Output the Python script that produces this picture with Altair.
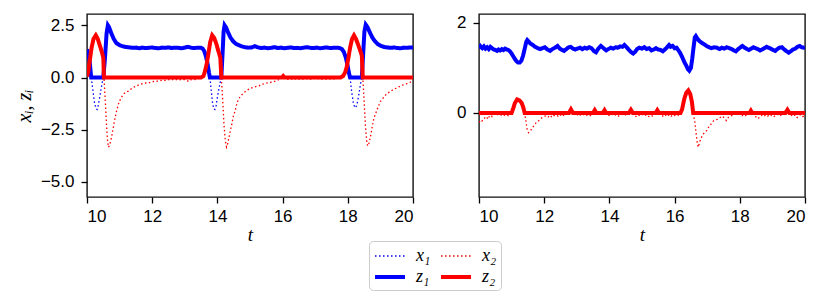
import altair as alt
import pandas as pd

# ---------------- data ----------------
SERIES = ["x\u2081", "x\u2082", "z\u2081", "z\u2082"]
COLORS = ["#0000ff", "#ff0000", "#0000ff", "#ff0000"]

X_TICKS = [10, 12, 14, 16, 18, 20]
Y_TICKS_LEFT = [-5.0, -2.5, 0.0, 2.5]
Y_TICKS_RIGHT = [0, 2]
Y_DOMAIN_LEFT = [-5.72, 3.04]
Y_DOMAIN_RIGHT = [-1.87, 2.2]

# left panel, z1 (t, value)
Z1_LEFT = [
    (10.00, 1.34), (10.04, 1.18), (10.08, 0.80), (10.11, 0.30), (10.13, 0.00),
    (10.50, 0.00), (10.55, 0.90), (10.60, 2.10), (10.64, 2.50), (10.68, 2.40),
    (10.75, 2.10), (10.82, 1.85), (10.90, 1.65), (11.00, 1.55), (11.10, 1.49),
    (11.20, 1.46), (11.30, 1.44), (11.40, 1.42), (11.50, 1.43), (11.60, 1.40),
    (11.70, 1.43), (11.80, 1.41), (11.90, 1.42), (12.00, 1.44), (12.10, 1.41),
    (12.20, 1.40), (12.30, 1.43), (12.40, 1.42), (12.50, 1.44), (12.60, 1.41),
    (12.70, 1.43), (12.80, 1.42), (12.90, 1.40), (13.00, 1.43), (13.10, 1.47),
    (13.20, 1.42), (13.30, 1.41), (13.40, 1.43), (13.50, 1.42), (13.55, 1.38),
    (13.60, 1.25), (13.65, 1.00), (13.70, 0.65), (13.74, 0.25), (13.77, 0.00),
    (14.12, 0.00), (14.16, 1.20), (14.19, 2.20), (14.22, 2.50), (14.27, 2.38),
    (14.33, 2.15), (14.40, 1.92), (14.48, 1.74), (14.56, 1.62), (14.65, 1.55),
    (14.75, 1.49), (14.85, 1.45), (14.95, 1.43), (15.05, 1.44), (15.15, 1.50),
    (15.25, 1.44), (15.35, 1.41), (15.45, 1.43), (15.55, 1.40), (15.65, 1.42),
    (15.75, 1.45), (15.85, 1.41), (15.95, 1.43), (16.05, 1.40), (16.15, 1.42),
    (16.25, 1.44), (16.35, 1.41), (16.45, 1.42), (16.55, 1.40), (16.65, 1.43),
    (16.75, 1.45), (16.85, 1.42), (16.95, 1.41), (17.05, 1.43), (17.15, 1.40),
    (17.25, 1.42), (17.35, 1.44), (17.45, 1.41), (17.55, 1.42), (17.65, 1.43),
    (17.75, 1.41), (17.82, 1.36), (17.88, 1.22), (17.94, 0.95), (17.99, 0.60),
    (18.03, 0.25), (18.07, 0.00), (18.43, 0.00), (18.47, 1.10), (18.51, 2.20),
    (18.55, 2.53), (18.60, 2.42), (18.67, 2.18), (18.75, 1.92), (18.83, 1.74),
    (18.92, 1.60), (19.02, 1.51), (19.12, 1.46), (19.22, 1.44), (19.32, 1.42),
    (19.42, 1.44), (19.52, 1.41), (19.62, 1.40), (19.72, 1.43), (19.82, 1.42),
    (19.92, 1.44), (20.00, 1.43),
]

# left panel, x1 where it dips below zero (elsewhere it equals z1)
X1_LEFT_DIPS = [
    [(10.13, 0.0), (10.18, -0.6), (10.23, -1.2), (10.28, -1.5), (10.31, -1.53),
     (10.35, -1.3), (10.41, -0.75), (10.46, -0.3), (10.50, 0.0)],
    [(13.77, 0.0), (13.81, -0.6), (13.85, -1.2), (13.89, -1.5), (13.92, -1.53),
     (13.96, -1.35), (14.01, -0.85), (14.07, -0.35), (14.12, 0.0)],
    [(18.07, 0.0), (18.12, -0.7), (18.17, -1.2), (18.21, -1.42), (18.24, -1.45),
     (18.28, -1.3), (18.33, -0.9), (18.38, -0.4), (18.43, 0.0)],
]

# left panel, x2
X2_LEFT = [
    (10.00, 0.05), (10.04, 0.30), (10.08, 0.75), (10.14, 1.42), (10.20, 1.85),
    (10.27, 2.02), (10.33, 1.85), (10.40, 1.50), (10.46, 1.20), (10.50, 0.94),
    (10.52, 0.00), (10.56, -1.10), (10.60, -2.30), (10.63, -3.05), (10.66, -3.34),
    (10.70, -3.20), (10.75, -2.89), (10.80, -2.45), (10.84, -2.09), (10.90, -1.65),
    (10.96, -1.29), (11.03, -1.02), (11.11, -0.81), (11.19, -0.70), (11.27, -0.65),
    (11.35, -0.55), (11.42, -0.47), (11.50, -0.42), (11.58, -0.36), (11.67, -0.31),
    (11.75, -0.30), (11.82, -0.25), (11.88, -0.26), (11.96, -0.22), (12.03, -0.19),
    (12.09, -0.21), (12.16, -0.17), (12.22, -0.15), (12.29, -0.14), (12.36, -0.16),
    (12.43, -0.11), (12.50, -0.10), (12.57, -0.13), (12.64, -0.09), (12.71, -0.12),
    (12.78, -0.08), (12.85, -0.11), (12.92, -0.07), (12.99, -0.10), (13.06, -0.14),
    (13.12, -0.19), (13.18, -0.11), (13.25, -0.08), (13.32, -0.10), (13.39, -0.06),
    (13.45, -0.03), (13.50, 0.00), (13.57, 0.06), (13.62, 0.30), (13.72, 1.10),
    (13.84, 2.02), (13.97, 1.60), (14.09, 0.95), (14.12, 0.00), (14.16, -1.00),
    (14.20, -2.20), (14.24, -3.00), (14.28, -3.33), (14.32, -3.15), (14.37, -2.75),
    (14.41, -2.45), (14.44, -2.25), (14.49, -1.85), (14.54, -1.61), (14.59, -1.30),
    (14.64, -1.05), (14.72, -0.88), (14.80, -0.74), (14.90, -0.62), (15.00, -0.53),
    (15.08, -0.48), (15.14, -0.45), (15.21, -0.42), (15.28, -0.40), (15.34, -0.33),
    (15.41, -0.31), (15.48, -0.28), (15.55, -0.25), (15.62, -0.24), (15.68, -0.20),
    (15.72, -0.21), (15.78, -0.17), (15.85, -0.13), (15.91, -0.08), (15.96, -0.03),
    (16.02, 0.07), (16.07, -0.02), (16.13, -0.06), (16.20, -0.10), (16.27, -0.07),
    (16.34, -0.11), (16.41, -0.06), (16.48, -0.09), (16.55, -0.05), (16.62, -0.08),
    (16.69, -0.04), (16.76, -0.07), (16.83, -0.10), (16.90, -0.06), (16.97, -0.04),
    (17.04, -0.08), (17.11, -0.05), (17.18, -0.09), (17.25, -0.06), (17.32, -0.08),
    (17.39, -0.04), (17.46, -0.07), (17.53, -0.05), (17.60, -0.08), (17.67, -0.04),
    (17.73, -0.02), (17.78, 0.00), (17.86, 0.08), (17.92, 0.25), (17.96, 0.46),
    (18.02, 0.95), (18.07, 1.42), (18.13, 1.85), (18.19, 2.02), (18.25, 1.85),
    (18.31, 1.60), (18.37, 1.34), (18.43, 1.05), (18.46, 0.00), (18.50, -1.10),
    (18.54, -2.30), (18.58, -3.05), (18.61, -3.28), (18.65, -3.15), (18.70, -2.80),
    (18.75, -2.35), (18.80, -1.95), (18.86, -1.70), (18.92, -1.45), (19.00, -1.15),
    (19.09, -0.97), (19.18, -0.80), (19.27, -0.70), (19.35, -0.62), (19.43, -0.55),
    (19.50, -0.50), (19.58, -0.44), (19.66, -0.37), (19.73, -0.34), (19.80, -0.30),
    (19.87, -0.26), (19.94, -0.21), (20.00, -0.18),
]

# left panel, z2
Z2_LEFT = [
    (10.00, 0.05), (10.04, 0.30), (10.08, 0.75), (10.14, 1.42), (10.20, 1.85),
    (10.27, 2.02), (10.33, 1.85), (10.40, 1.50), (10.46, 1.20), (10.50, 0.94),
    (10.52, 0.00), (13.50, 0.00), (13.57, 0.06), (13.62, 0.30), (13.67, 0.65),
    (13.72, 1.10), (13.78, 1.70), (13.84, 2.02), (13.90, 1.90), (13.97, 1.60),
    (14.03, 1.26), (14.09, 0.95), (14.12, 0.00), (15.98, 0.00), (16.02, 0.07),
    (16.06, 0.00), (17.78, 0.00), (17.86, 0.08), (17.92, 0.25), (17.96, 0.46),
    (18.02, 0.95), (18.07, 1.42), (18.13, 1.85), (18.19, 2.02), (18.25, 1.85),
    (18.31, 1.60), (18.37, 1.34), (18.43, 1.05), (18.46, 0.00), (20.00, 0.00),
]

# right panel, z1
Z1_RIGHT = [
    (10.00, 1.53), (10.05, 1.47), (10.10, 1.44), (10.15, 1.48), (10.20, 1.43),
    (10.25, 1.46), (10.30, 1.42), (10.35, 1.47), (10.40, 1.44), (10.45, 1.41),
    (10.50, 1.40), (10.55, 1.38), (10.60, 1.41), (10.65, 1.39), (10.70, 1.42),
    (10.75, 1.40), (10.80, 1.43), (10.85, 1.41), (10.90, 1.40), (10.95, 1.37),
    (11.00, 1.32), (11.05, 1.26), (11.10, 1.20), (11.15, 1.15), (11.20, 1.12),
    (11.25, 1.12), (11.30, 1.16), (11.35, 1.27), (11.40, 1.42), (11.45, 1.58),
    (11.48, 1.62), (11.53, 1.58), (11.58, 1.54), (11.65, 1.51), (11.72, 1.47),
    (11.80, 1.44), (11.88, 1.42), (11.95, 1.44), (12.02, 1.46), (12.10, 1.41),
    (12.18, 1.38), (12.25, 1.42), (12.33, 1.45), (12.41, 1.49), (12.48, 1.43),
    (12.55, 1.40), (12.61, 1.38), (12.68, 1.42), (12.75, 1.46), (12.81, 1.47),
    (12.88, 1.43), (12.95, 1.41), (13.02, 1.43), (13.10, 1.45), (13.17, 1.42),
    (13.24, 1.45), (13.31, 1.43), (13.38, 1.46), (13.45, 1.44), (13.52, 1.38),
    (13.59, 1.35), (13.66, 1.43), (13.74, 1.49), (13.82, 1.44), (13.90, 1.39),
    (13.97, 1.42), (14.04, 1.45), (14.12, 1.43), (14.19, 1.46), (14.26, 1.45),
    (14.33, 1.48), (14.40, 1.47), (14.46, 1.51), (14.53, 1.46), (14.60, 1.40),
    (14.67, 1.35), (14.73, 1.32), (14.79, 1.36), (14.85, 1.42), (14.92, 1.45),
    (15.00, 1.43), (15.07, 1.46), (15.14, 1.42), (15.22, 1.44), (15.29, 1.39),
    (15.36, 1.41), (15.43, 1.44), (15.50, 1.41), (15.57, 1.40), (15.64, 1.37),
    (15.70, 1.41), (15.77, 1.46), (15.83, 1.51), (15.88, 1.47), (15.94, 1.49),
    (16.00, 1.44), (16.06, 1.45), (16.12, 1.39), (16.18, 1.32), (16.24, 1.23),
    (16.30, 1.13), (16.36, 1.05), (16.41, 0.97), (16.45, 0.94), (16.50, 1.00),
    (16.54, 1.20), (16.58, 1.45), (16.62, 1.68), (16.65, 1.71), (16.70, 1.65),
    (16.76, 1.60), (16.83, 1.56), (16.90, 1.53), (16.98, 1.49), (17.06, 1.46),
    (17.13, 1.44), (17.21, 1.46), (17.30, 1.45), (17.38, 1.42), (17.45, 1.45),
    (17.52, 1.43), (17.60, 1.46), (17.68, 1.44), (17.75, 1.42), (17.82, 1.39),
    (17.88, 1.37), (17.95, 1.42), (18.02, 1.46), (18.08, 1.49), (18.15, 1.45),
    (18.22, 1.42), (18.28, 1.40), (18.35, 1.43), (18.42, 1.46), (18.48, 1.44),
    (18.55, 1.42), (18.62, 1.39), (18.68, 1.41), (18.75, 1.44), (18.82, 1.47),
    (18.88, 1.45), (18.95, 1.43), (19.02, 1.40), (19.09, 1.38), (19.15, 1.42),
    (19.22, 1.45), (19.29, 1.46), (19.35, 1.42), (19.42, 1.38), (19.50, 1.34),
    (19.56, 1.37), (19.63, 1.41), (19.70, 1.43), (19.77, 1.47), (19.84, 1.49),
    (19.90, 1.46), (19.96, 1.45), (20.00, 1.46),
]

# right panel, x2
X2_RIGHT = [
    (10.00, -0.21), (10.04, -0.18), (10.08, -0.20), (10.12, -0.14), (10.16, -0.13),
    (10.20, -0.08), (10.24, -0.10), (10.28, -0.14), (10.32, -0.07), (10.36, -0.05),
    (10.40, -0.08), (10.45, -0.04), (10.50, -0.02), (10.55, -0.05), (10.60, -0.03),
    (10.66, -0.06), (10.72, -0.02), (10.78, -0.05), (10.84, -0.03), (10.90, -0.06),
    (10.96, -0.02), (11.00, 0.00), (11.05, 0.10), (11.10, 0.22), (11.17, 0.30),
    (11.24, 0.28), (11.31, 0.22), (11.36, 0.12), (11.40, 0.00), (11.44, -0.18),
    (11.48, -0.38), (11.52, -0.44), (11.57, -0.41), (11.62, -0.35), (11.66, -0.31),
    (11.71, -0.26), (11.76, -0.21), (11.82, -0.18), (11.88, -0.14), (11.94, -0.10),
    (12.00, -0.08), (12.06, -0.06), (12.12, -0.09), (12.18, -0.05), (12.24, -0.10),
    (12.30, -0.06), (12.36, -0.04), (12.42, -0.07), (12.48, -0.03), (12.54, -0.08),
    (12.60, -0.05), (12.66, -0.03), (12.72, -0.01), (12.76, 0.00), (12.82, 0.08),
    (12.88, 0.00), (12.94, -0.05), (13.00, -0.03), (13.06, -0.07), (13.12, -0.04),
    (13.18, -0.06), (13.24, -0.02), (13.30, -0.05), (13.36, -0.03), (13.42, -0.06),
    (13.48, -0.02), (13.55, 0.06), (13.60, 0.00), (13.66, -0.05), (13.72, -0.02),
    (13.78, 0.01), (13.85, 0.06), (13.90, 0.00), (13.96, -0.04), (14.02, -0.07),
    (14.08, -0.03), (14.14, -0.06), (14.20, -0.04), (14.26, -0.08), (14.32, -0.05),
    (14.38, -0.03), (14.44, -0.06), (14.50, -0.04), (14.56, -0.02), (14.60, 0.00),
    (14.66, 0.07), (14.72, 0.00), (14.78, -0.06), (14.84, -0.09), (14.90, -0.05),
    (14.96, -0.07), (15.02, -0.03), (15.08, -0.06), (15.14, -0.04), (15.20, -0.08),
    (15.26, -0.05), (15.32, -0.07), (15.38, -0.03), (15.42, 0.00), (15.47, 0.06),
    (15.52, 0.00), (15.58, -0.04), (15.64, -0.07), (15.70, -0.03), (15.76, -0.08),
    (15.82, -0.05), (15.88, -0.09), (15.94, -0.04), (16.00, -0.06), (16.06, -0.03),
    (16.12, -0.05), (16.18, 0.00), (16.23, 0.08), (16.30, 0.32), (16.36, 0.45),
    (16.42, 0.50), (16.48, 0.42), (16.53, 0.25), (16.57, 0.00), (16.62, -0.20),
    (16.66, -0.45), (16.70, -0.70), (16.73, -0.76), (16.77, -0.64), (16.82, -0.55),
    (16.88, -0.47), (16.94, -0.42), (16.99, -0.39), (17.04, -0.32), (17.09, -0.28),
    (17.14, -0.22), (17.19, -0.18), (17.26, -0.15), (17.33, -0.14), (17.40, -0.10),
    (17.47, -0.07), (17.53, -0.12), (17.59, -0.17), (17.65, -0.10), (17.72, -0.07),
    (17.79, -0.05), (17.86, -0.03), (17.93, -0.04), (18.00, -0.02), (18.07, -0.06),
    (18.14, -0.03), (18.20, -0.07), (18.26, -0.02), (18.30, 0.00), (18.34, 0.05),
    (18.38, 0.00), (18.44, -0.06), (18.50, -0.09), (18.56, -0.13), (18.62, -0.08),
    (18.68, -0.05), (18.74, -0.08), (18.80, -0.04), (18.86, -0.07), (18.92, -0.03),
    (18.98, -0.06), (19.04, -0.09), (19.10, -0.05), (19.16, -0.03), (19.22, -0.07),
    (19.28, -0.04), (19.34, -0.02), (19.40, 0.00), (19.46, 0.07), (19.52, 0.00),
    (19.58, -0.05), (19.64, -0.08), (19.70, -0.04), (19.76, -0.10), (19.82, -0.06),
    (19.88, -0.03), (19.94, -0.08), (20.00, -0.05),
]

# right panel, z2
Z2_RIGHT = [
    (10.00, 0.00), (11.00, 0.00), (11.05, 0.10), (11.10, 0.22), (11.17, 0.30),
    (11.24, 0.28), (11.31, 0.22), (11.36, 0.12), (11.40, 0.00), (12.76, 0.00),
    (12.82, 0.08), (12.88, 0.00), (13.50, 0.00), (13.55, 0.06), (13.60, 0.00),
    (13.80, 0.00), (13.85, 0.06), (13.90, 0.00), (14.60, 0.00), (14.66, 0.07),
    (14.72, 0.00), (15.42, 0.00), (15.47, 0.06), (15.52, 0.00), (16.18, 0.00),
    (16.23, 0.08), (16.30, 0.32), (16.36, 0.45), (16.42, 0.50), (16.48, 0.42),
    (16.53, 0.25), (16.57, 0.00), (18.30, 0.00), (18.34, 0.05), (18.38, 0.00),
    (19.40, 0.00), (19.46, 0.07), (19.52, 0.00), (20.00, 0.00),
]


# ---------------- build tables ----------------
def table(pairs, name, seg=0):
    return pd.DataFrame({
        "t": [p[0] for p in pairs],
        "v": [p[1] for p in pairs],
        "series": name,
        "seg": seg,
    })


x1_left = pd.concat([table(d, SERIES[0], i) for i, d in enumerate(X1_LEFT_DIPS)],
                    ignore_index=True)
left_layers = [x1_left, table(X2_LEFT, SERIES[1]), table(Z1_LEFT, SERIES[2]),
               table(Z2_LEFT, SERIES[3])]
right_layers = [table(X2_RIGHT, SERIES[1]), table(Z1_RIGHT, SERIES[2]),
                table(Z2_RIGHT, SERIES[3])]

# legend symbol: a horizontal stroke 1.5x as long as the nominal symbol box
legend = alt.Legend(
    title=None, orient="none", legendX=282, legendY=227, columns=2,
    direction="horizontal",
    symbolType="M-1,0H2", symbolSize=400, labelFont="Liberation Serif",
    labelFontStyle="italic", labelFontSize=18, labelColor="black",
    labelOffset=19, columnPadding=2, rowPadding=-2, padding=4,
    strokeColor="#cccccc", cornerRadius=4, fillColor="white",
)
color_enc = alt.Color("series:N", scale=alt.Scale(domain=SERIES, range=COLORS),
                      legend=legend)
dash_enc = alt.StrokeDash("series:N", scale=alt.Scale(
    domain=SERIES, range=[[1.5, 2.5], [1.5, 2.5], [1, 0], [1, 0]]), legend=legend)
width_enc = alt.StrokeWidth("series:N", scale=alt.Scale(
    type="ordinal", domain=SERIES, range=[1.3, 1.3, 4.0, 4.0]), legend=legend)

axis_common = dict(
    grid=False, domain=False, tickSize=6, tickWidth=1.3, tickColor="black",
    labelFont="Liberation Sans", labelFontSize=17, labelColor="black",
    titleFont="Liberation Serif", titleFontStyle="italic", titleFontWeight="normal",
    titleFontSize=19, titleColor="black",
)

x_enc = alt.X("t:Q", scale=alt.Scale(domain=[10, 20], nice=False, zero=False),
              axis=alt.Axis(values=X_TICKS, format="d", title="t",
                            labelPadding=5, titlePadding=1, **axis_common))

frame = alt.ViewBackground(stroke="#111111", strokeWidth=1.4, fill="white")


def panel(layers, y_domain, y_ticks, y_format, y_title):
    y_axis_kwargs = dict(values=y_ticks, format=y_format, labelPadding=7, **axis_common)
    if y_title:
        y_axis_kwargs["title"] = y_title
        y_axis_kwargs["titlePadding"] = 6
        y_axis_kwargs["titleFontSize"] = 20
    else:
        y_axis_kwargs["title"] = None
    y_enc = alt.Y("v:Q", scale=alt.Scale(domain=y_domain, nice=False, zero=False),
                  axis=alt.Axis(**y_axis_kwargs))
    charts = [
        alt.Chart(df).mark_line(clip=True).encode(
            x=x_enc, y=y_enc, color=color_enc, strokeDash=dash_enc,
            strokeWidth=width_enc, detail="seg:N")
        for df in layers
    ]
    return alt.layer(*charts).properties(width=326, height=183, view=frame)


left = panel(left_layers, Y_DOMAIN_LEFT, Y_TICKS_LEFT, ".1f", "x\u1d62, z\u1d62")
right = panel(right_layers, Y_DOMAIN_RIGHT, Y_TICKS_RIGHT, "d", None)

chart = alt.hconcat(left, right, spacing=40).properties(
    padding={"left": 5, "top": 5, "right": 5, "bottom": 0},
    background="white",
).configure_view(stroke="#111111", strokeWidth=1.4)

chart.save("out.html", embed_options={"renderer": "svg", "actions": False})
